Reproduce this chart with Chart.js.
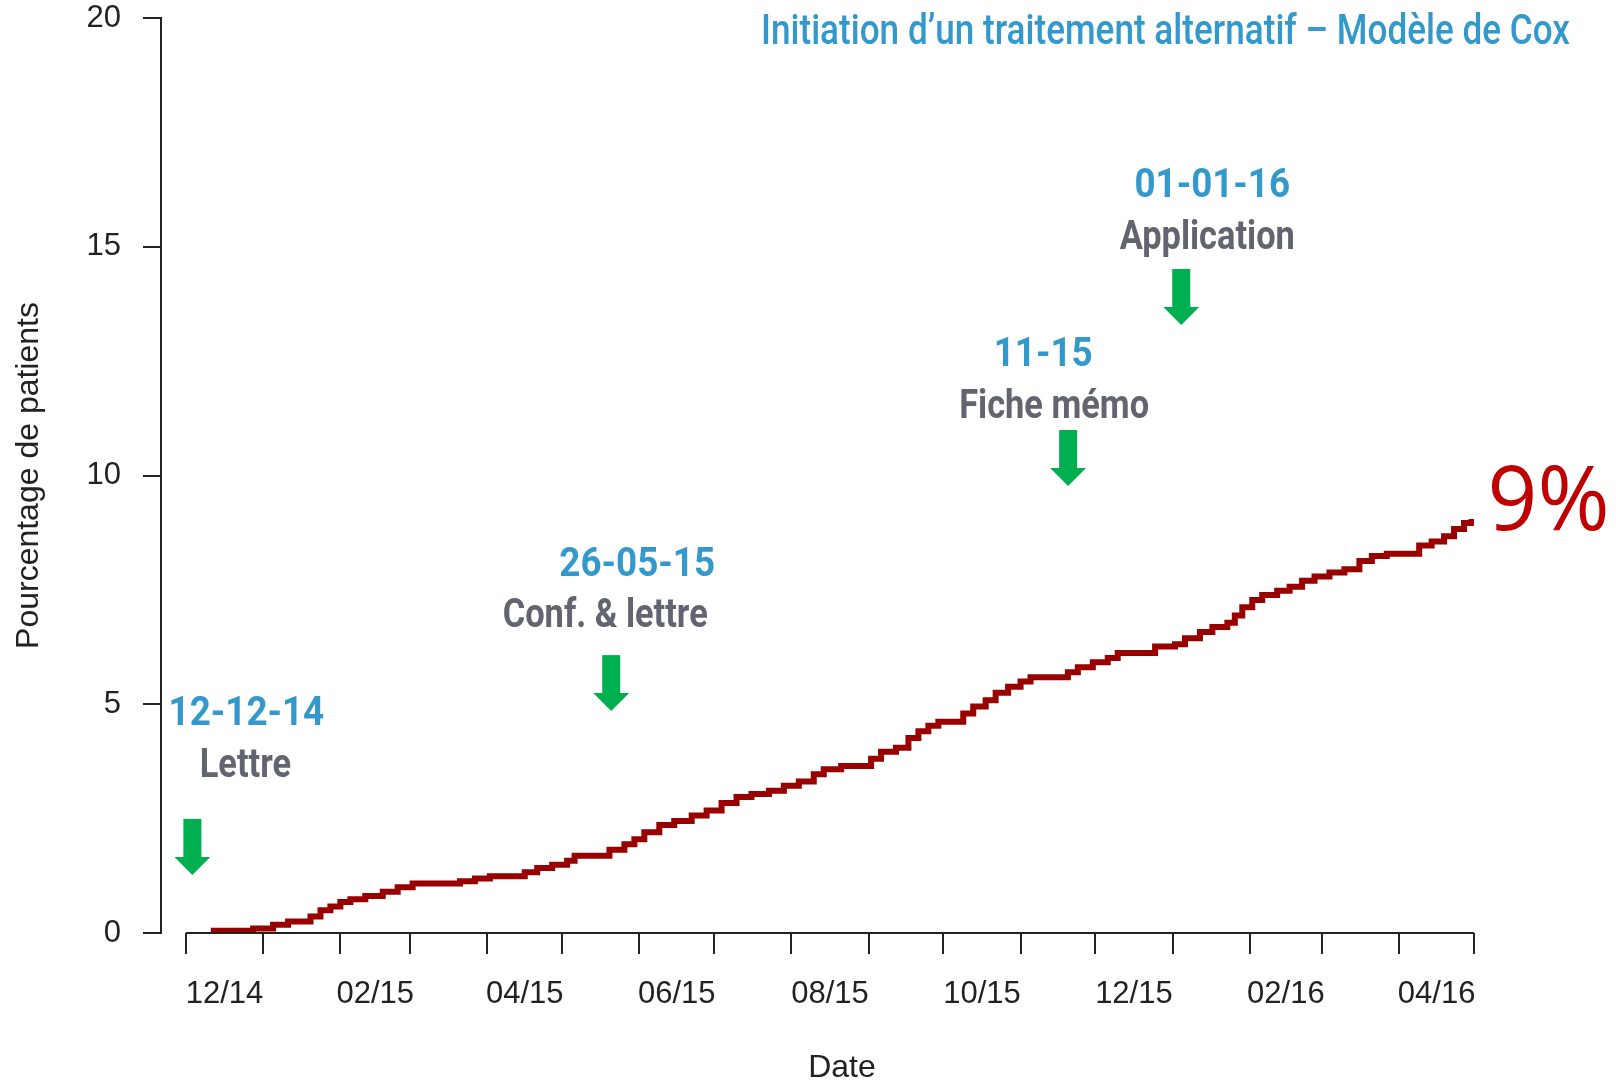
<!DOCTYPE html>
<html>
<head>
<meta charset="utf-8">
<script src="https://cdn.jsdelivr.net/npm/chart.js@4.4.1/dist/chart.umd.min.js"></script>
<style>
    html, body { margin: 0; padding: 0; background: #fff; }
    #wrap { width: 1616px; height: 1081px; position: relative; }
</style>
</head>
<body>
<div id="wrap"><canvas id="coxChart"></canvas></div>
<script>
// days since 01/12/2014 where the curve steps up, and the new level (%)
const STEP_DAYS = [10, 27, 35, 41, 50, 54, 58, 62, 66, 72, 79, 85, 91, 110, 116, 122, 136, 141, 147, 153,
    156, 170, 176, 180, 184, 190, 196, 203, 209, 215, 221, 227, 234, 240, 246, 252, 256, 263, 275, 279,
    285, 290, 294, 298, 302, 312, 316, 321, 325, 330, 335, 339, 354, 358, 364, 370, 374, 389, 397, 401,
    407, 412, 418, 421, 424, 428, 432, 438, 443, 448, 453, 459, 465, 471, 476, 482, 495, 500, 505, 509,
    513, 516];
const STEP_PCT = [0.05, 0.10, 0.18, 0.25, 0.36, 0.50, 0.58, 0.68, 0.74, 0.81, 0.90, 1.00, 1.08, 1.13, 1.19, 1.24, 1.33, 1.42, 1.49, 1.58,
    1.69, 1.82, 1.94, 2.05, 2.20, 2.36, 2.45, 2.57, 2.68, 2.84, 2.97, 3.04, 3.11, 3.22, 3.31, 3.47, 3.58, 3.65, 3.81, 3.96,
    4.05, 4.26, 4.41, 4.53, 4.62, 4.80, 4.95, 5.09, 5.25, 5.38, 5.50, 5.59, 5.70, 5.81, 5.92, 6.01, 6.12, 6.26, 6.31, 6.44,
    6.58, 6.69, 6.78, 6.94, 7.12, 7.28, 7.39, 7.48, 7.57, 7.70, 7.79, 7.88, 7.95, 8.13, 8.24, 8.29, 8.47, 8.56, 8.67, 8.83,
    8.96, 9.05];

const MONTH_STARTS = [0, 31, 62, 90, 121, 151, 182, 212, 243, 274, 304, 335, 365, 396, 427, 456, 487, 517];
const LABEL_DAYS = [15.5, 76, 136, 197, 258.5, 319.5, 380.5, 441.5, 502];
const LABEL_TEXT = ['12/14', '02/15', '04/15', '06/15', '08/15', '10/15', '12/15', '02/16', '04/16'];

const EVENT_DATES = ['12-12-14', '26-05-15', '11-15', '01-01-16'];
const EVENT_NAMES = ['Lettre', 'Conf. & lettre', 'Fiche mémo', 'Application'];
const EVENT_DAY = [2.6, 170.7, 354.1, 399.5];
const EVENT_TIP = [1.27, 4.85, 9.77, 13.29];

const TITLE = 'Initiation d\u2019un traitement alternatif \u2013 Modèle de Cox';
const X_TITLE = 'Date';
const FINAL_LABEL = '9%';

// label offsets from arrow (px)
const LABEL_POS = [
    { dx: 54, dy: -160, nx: 53, ny: -108 },
    { dx: 26, dy: -145, nx: -6, ny: -94 },
    { dx: -25, dy: -130, nx: -14, ny: -78 },
    { dx: 31, dy: -138, nx: 26, ny: -86 }
];

const BLUE = '#3399cc';
const GREY = '#62656f';
const GREEN = '#00b050';
const AXIS = '#222';
const SANS = '"Liberation Sans", Arial, sans-serif';

// condensed look: draw a normal font squeezed horizontally
function squeezeText(ctx, text, x, y, align, sx) {
    ctx.save();
    ctx.translate(x, y);
    ctx.scale(sx, 1);
    ctx.textAlign = align;
    ctx.textBaseline = 'middle';
    ctx.fillText(text, 0, 0);
    ctx.restore();
}

const overlay = {
    id: 'overlay',
    afterDraw(chart) {
        const ctx = chart.ctx;
        const x = chart.scales.x;
        const y = chart.scales.y;
        const x0 = x.getPixelForValue(MONTH_STARTS[0]);
        const x1 = x.getPixelForValue(MONTH_STARTS[MONTH_STARTS.length - 1]);
        ctx.save();

        // R style x axis line, first to last tick
        ctx.strokeStyle = AXIS;
        ctx.lineWidth = 2;
        ctx.beginPath();
        ctx.moveTo(x0, chart.chartArea.bottom);
        ctx.lineTo(x1, chart.chartArea.bottom);
        ctx.stroke();

        ctx.fillStyle = AXIS;
        ctx.font = '32px ' + SANS;
        squeezeText(ctx, X_TITLE, (x0 + x1) / 2 + 12, 1068, 'center', 1);

        EVENT_DATES.forEach((d, i) => {
            const px = x.getPixelForValue(EVENT_DAY[i]);
            const tip = y.getPixelForValue(EVENT_TIP[i]);
            ctx.fillStyle = GREEN;
            ctx.fillRect(px - 9, tip - 56, 18, 39);
            ctx.beginPath();
            ctx.moveTo(px - 18, tip - 18);
            ctx.lineTo(px + 18, tip - 18);
            ctx.lineTo(px, tip);
            ctx.closePath();
            ctx.fill();

            const p = LABEL_POS[i];
            ctx.font = 'bold 40px Roboto, ' + SANS;
            ctx.fillStyle = BLUE;
            squeezeText(ctx, d, px + p.dx, tip + p.dy, 'center', 0.92);
            ctx.fillStyle = GREY;
            squeezeText(ctx, EVENT_NAMES[i], px + p.nx, tip + p.ny, 'center', 0.86);
        });

        const last = STEP_DAYS.length - 1;
        ctx.font = '90px "Open Sans", "Noto Sans", sans-serif';
        ctx.fillStyle = '#c00000';
        squeezeText(ctx, FINAL_LABEL, x.getPixelForValue(STEP_DAYS[last]) + 16, y.getPixelForValue(STEP_PCT[last]) - 15, 'left', 0.97);

        ctx.font = '500 42px Roboto, ' + SANS;
        ctx.fillStyle = BLUE;
        const sx = 809 / ctx.measureText(TITLE).width;
        squeezeText(ctx, TITLE, 1570, 33, 'right', sx);
        ctx.restore();
    }
};

const ctx = document.getElementById('coxChart').getContext('2d');
new Chart(ctx, {
    type: 'line',
    data: {
        datasets: [{
            data: STEP_DAYS.map((d, i) => ({ x: d, y: STEP_PCT[i] })),
            borderColor: '#990000',
            borderWidth: 6,
            pointRadius: 0,
            stepped: true,
            fill: false
        }]
    },
    options: {
        responsive: true,
        maintainAspectRatio: false,
        animation: false,
        layout: { padding: { top: 0, right: 142, bottom: 0, left: 0 } },
        plugins: { legend: { display: false }, tooltip: { enabled: false } },
        scales: {
            x: {
                type: 'linear',
                min: -10,
                max: 517,
                afterBuildTicks: scale => {
                    scale.ticks = MONTH_STARTS.concat(LABEL_DAYS).sort((a, b) => a - b).map(v => ({ value: v }));
                },
                afterFit: scale => {
                    scale.height = 148;
                    scale.paddingLeft = 0;
                    scale.paddingRight = 0;
                },
                border: { display: false },
                grid: {
                    drawOnChartArea: false,
                    drawTicks: true,
                    tickLength: 21,
                    lineWidth: 2,
                    color: c => (c.tick && MONTH_STARTS.includes(c.tick.value) ? AXIS : 'rgba(0,0,0,0)')
                },
                ticks: {
                    autoSkip: false,
                    maxRotation: 0,
                    padding: 22,
                    color: AXIS,
                    font: { family: SANS, size: 31 },
                    callback: v => {
                        const k = LABEL_DAYS.indexOf(v);
                        return k >= 0 ? LABEL_TEXT[k] : '';
                    }
                }
            },
            y: {
                min: 0,
                max: 20,
                afterFit: scale => {
                    scale.width = 161;
                    scale.paddingTop = 18;
                    scale.paddingBottom = 0;
                },
                border: { display: true, color: AXIS, width: 2 },
                grid: { drawOnChartArea: false, drawTicks: true, tickLength: 18, lineWidth: 2, color: AXIS },
                ticks: {
                    stepSize: 5,
                    padding: 22,
                    color: AXIS,
                    font: { family: SANS, size: 31 }
                },
                title: {
                    display: true,
                    text: 'Pourcentage de patients',
                    color: AXIS,
                    font: { family: SANS, size: 32, lineHeight: 1 },
                    padding: { top: 13, bottom: 0 }
                }
            }
        }
    },
    plugins: [overlay]
});
</script>
</body>
</html>
